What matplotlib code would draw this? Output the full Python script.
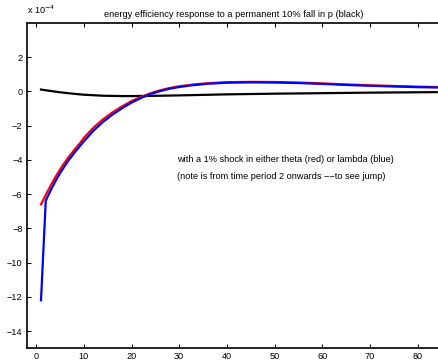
import matplotlib
matplotlib.use("Agg")
import matplotlib.pyplot as plt

plt.rcParams['font.family'] = ['Liberation Sans', 'DejaVu Sans']

# values in units of 1e-4
t_red = [1, 2, 3, 4, 5, 6, 7, 8, 9, 10, 12, 14, 16, 18, 20, 22, 24, 26, 28, 30,
         33, 36, 40, 45, 50, 55, 60, 65, 70, 75, 80, 84]
red = [-6.60, -6.05, -5.52, -5.02, -4.56, -4.15, -3.77, -3.42, -3.09, -2.72,
       -2.12, -1.64, -1.23, -0.88, -0.57, -0.33, -0.11, 0.06, 0.19, 0.29,
       0.40, 0.47, 0.53, 0.55, 0.54, 0.51, 0.46, 0.40, 0.35, 0.31, 0.27, 0.25]
blue = [-12.2, -6.38, -5.80, -5.26, -4.78, -4.35, -3.95, -3.59, -3.25, -2.92,
        -2.30, -1.79, -1.36, -0.99, -0.66, -0.39, -0.16, 0.01, 0.15, 0.25,
        0.36, 0.44, 0.50, 0.52, 0.51, 0.48, 0.43, 0.37, 0.32, 0.28, 0.24, 0.22]

t_black = [1, 2, 3, 4, 5, 6, 8, 10, 12, 14, 16, 18, 20, 23, 26, 30, 35, 40,
           45, 50, 60, 70, 84]
black = [0.10, 0.06, 0.02, -0.02, -0.06, -0.09, -0.15, -0.20, -0.23, -0.26,
         -0.27, -0.28, -0.28, -0.27, -0.26, -0.24, -0.21, -0.18, -0.16, -0.14,
         -0.11, -0.08, -0.05]

xticks = list(range(0, 90, 10))
yticks = list(range(-14, 4, 2))

fig = plt.figure(figsize=(4.39, 3.61), dpi=100)
ax = fig.add_axes([0.0608, 0.0352, 0.9449, 0.9018])

ax.plot(t_black, black, color='black', lw=1.6)
ax.plot(t_red, red, color='red', lw=1.6)
ax.plot(t_red, blue, color='blue', lw=1.6)

ax.set_xlim(-2, 85)
ax.set_ylim(-15, 4)
ax.set_xticks(xticks)
ax.set_yticks(yticks)
ax.set_yticklabels([str(v).replace('-', '\u2212') for v in yticks])
ax.tick_params(direction='in', top=True, right=True, labelsize=6.6,
               length=3, width=0.8, pad=3)
for s in ax.spines.values():
    s.set_linewidth(1.2)

ax.set_title("energy efficiency response to a permanent 10% fall in p (black)",
             fontsize=6.7, pad=4)
fig.text(0.062, 0.955, r"x 10$^{-4}$", fontsize=6.6, ha='left', va='bottom')

ax.text(29.5, -4.0, "with a 1% shock in either theta (red) or lambda (blue)",
        fontsize=6.6, ha='left', va='center')
ax.text(29.5, -5.0, "(note is from time period 2 onwards \u2212\u2212to see jump)",
        fontsize=6.6, ha='left', va='center')

fig.savefig("out.png", dpi=100)
